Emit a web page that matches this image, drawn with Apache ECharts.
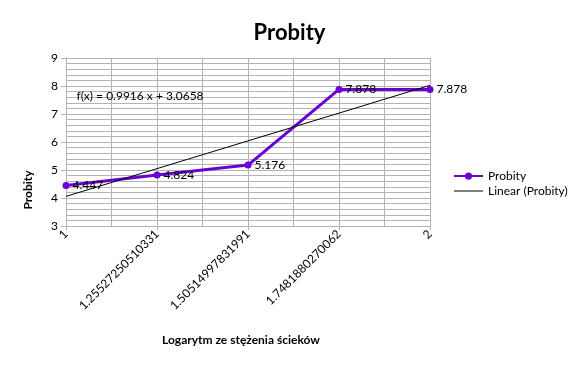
<!DOCTYPE html>
<html><head><meta charset="utf-8">
<script src="https://cdn.jsdelivr.net/npm/echarts@6/dist/echarts.min.js"></script>
<style>html,body{margin:0;padding:0;background:#fff}#c{width:579px;height:367px}</style>
</head><body><div id="c"></div>
<script>
const categories = ['1', '1.25527250510331', '1.50514997831991', '1.7481880270062', '2'];
const probity = [4.447, 4.824, 5.176, 7.878, 7.878];
const linearTrend = [4.057, 5.049, 6.041, 7.032, 8.024];
const yTicks = [3, 4, 5, 6, 7, 8, 9];

const FONT = 'Lato, "Open Sans", sans-serif';
const PURPLE = '#6a00d4';
const chart = echarts.init(document.getElementById('c'));
const gridColor = '#b3b3b3';
chart.setOption({
  animation: false,
  backgroundColor: '#fff',
  title: {
    text: 'Probity', left: 'center', top: 17,
    textStyle: {fontFamily: FONT, fontSize: 22, fontWeight: 'bold', color: '#000'}
  },
  graphic: [{
    type: 'text', x: 28, y: 190, rotation: Math.PI / 2,
    style: {text: 'Probity', font: 'bold 12px ' + FONT, fill: '#000', align: 'center', verticalAlign: 'middle'}
  }],
  legend: [
    {
      orient: 'vertical', left: 449, top: 165, itemWidth: 29, itemHeight: 9,
      textStyle: {fontFamily: FONT, fontSize: 12, color: '#000'},
      data: [{name: 'Probity', icon: 'path://M0,4L32,4L32,6L0,6Z M20,5A4,4 0 1 1 12,5A4,4 0 1 1 20,5Z'}]
    },
    {
      orient: 'vertical', left: 449, top: 180, itemWidth: 29, itemHeight: 1,
      textStyle: {fontFamily: FONT, fontSize: 12, color: '#000'},
      data: [{name: 'Linear (Probity)', icon: 'rect'}]
    }
  ],
  grid: {left: 66, right: 149, top: 58, bottom: 141, containLabel: false},
  xAxis: {
    type: 'value', min: 1, max: categories.length, interval: 1,
    name: 'Logarytm ze stężenia ścieków', nameLocation: 'middle', nameGap: 108,
    nameTextStyle: {fontFamily: FONT, fontSize: 12, fontWeight: 'bold', color: '#000', padding: [0, 14, 0, 0]},
    axisLine: {show: true, lineStyle: {color: gridColor}},
    axisTick: {show: true, length: 4, lineStyle: {color: gridColor}},
    axisLabel: {
      rotate: 45, fontFamily: FONT, fontSize: 12, color: '#000', margin: 6,
      formatter: v => categories[Math.round(v) - 1] || ''
    },
    splitLine: {show: true, lineStyle: {color: gridColor}},
    minorTick: {show: false, splitNumber: 2},
    minorSplitLine: {show: true, lineStyle: {color: gridColor}}
  },
  yAxis: {
    type: 'value', min: yTicks[0], max: yTicks[yTicks.length - 1], interval: 1,
    axisLine: {show: true, lineStyle: {color: gridColor}},
    axisTick: {show: true, length: 5, lineStyle: {color: gridColor}},
    axisLabel: {fontFamily: FONT, fontSize: 12, color: '#000', margin: 8},
    splitLine: {show: true, lineStyle: {color: gridColor}},
    minorTick: {show: false, splitNumber: 5},
    minorSplitLine: {show: true, lineStyle: {color: gridColor}}
  },
  series: [
    {
      name: 'Probity', type: 'line', z: 3,
      data: probity.map((v, i) => [i + 1, v]),
      color: PURPLE,
      lineStyle: {width: 3, color: PURPLE},
      symbol: 'circle', symbolSize: 7,
      itemStyle: {color: PURPLE},
      label: {show: true, position: 'right', distance: 3, fontFamily: FONT, fontSize: 12, color: '#000',
        formatter: p => probity[p.dataIndex].toFixed(3)}
    },
    {
      name: 'Linear (Probity)', type: 'line', z: 4,
      data: linearTrend.map((v, i) => [i + 1, v]),
      color: '#000',
      lineStyle: {width: 1, color: '#000'},
      symbol: 'none', silent: true,
      markPoint: {
        symbol: 'rect', symbolSize: 0,
        label: {show: true, formatter: 'f(x) = 0.9916 x + 3.0658', fontFamily: FONT, fontSize: 12, color: '#000', position: 'right'},
        data: [{coord: [1.06, 7.64]}]
      }
    }
  ]
});
</script></body></html>
